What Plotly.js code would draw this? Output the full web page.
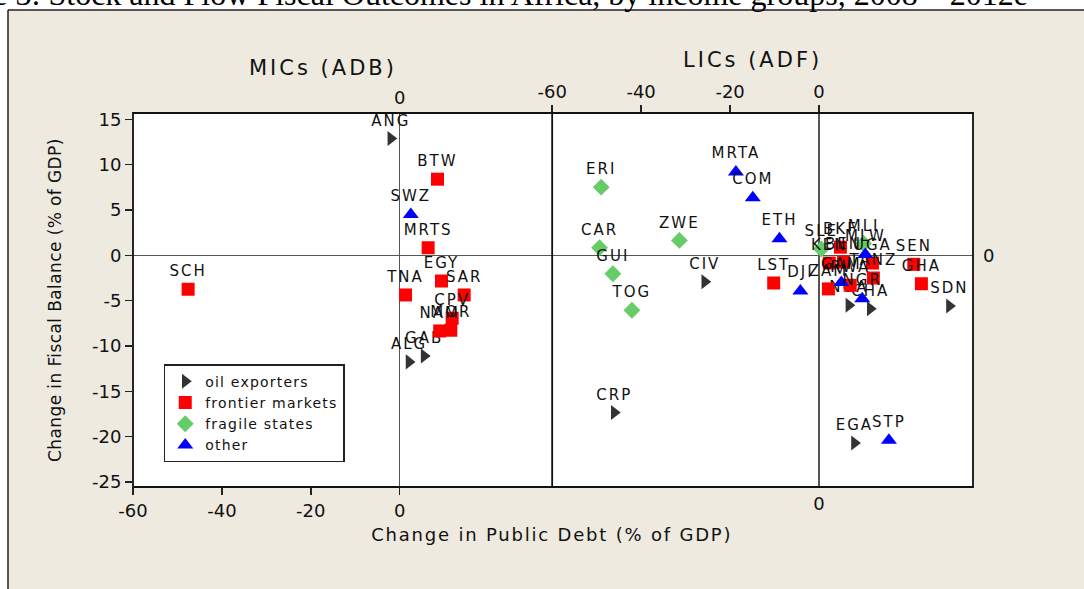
<!DOCTYPE html>
<html>
<head>
<meta charset="utf-8">
<script src="https://cdn.plot.ly/plotly-3.0.1.min.js"></script>
<style>
html,body{margin:0;padding:0;background:#fff;}
#chart{width:1084px;height:589px;}
.legendtext{letter-spacing:1.2px;}
#chart .textpoint text{letter-spacing:2px;}
</style>
</head>
<body>
<div id="chart"></div>
<script>
// ---------- MICs (ADB) ----------
const micOilLabels = ["ANG", "GAB", "ALG"];
const micOilX = [-2.0, 5.5, 2.1];
const micOilY = [12.9, -11.1, -11.75];

const micFrontLabels = ["BTW", "MRTS", "SCH", "TNA", "EGY", "SAR", "CPV", "NAM", "MOR"];
const micFrontX = [8.5, 6.4, -47.6, 1.3, 9.4, 14.5, 11.8, 9.0, 11.5];
const micFrontY = [8.4, 0.84, -3.74, -4.37, -2.83, -4.37, -6.94, -8.34, -8.26];

const micOtherLabels = ["SWZ"];
const micOtherX = [2.5];
const micOtherY = [4.5];

// ---------- LICs (ADF) ----------
const licOilLabels = ["CIV", "CRP", "SDN", "EGA", "NGA", "CHA"];
const licOilX = [-25.7, -46.05, 29.3, 7.95, 6.7, 11.5];
const licOilY = [-2.9, -17.33, -5.58, -20.7, -5.5, -5.9];

const licFrontLabels = ["LST", "SEN", "GHA", "BKF", "KEN", "BEN", "UGA", "TANZ", "ZAM", "RWA"];
const licFrontX = [-10.2, 21.3, 23.0, 4.8, 2.3, 5.5, 12.0, 12.2, 2.1, 7.0];
const licFrontY = [-3.05, -0.99, -3.13, 0.9, -0.85, -0.75, -0.85, -2.5, -3.7, -3.3];

const licFragileLabels = ["ERI", "CAR", "GUI", "TOG", "ZWE", "SLE", "MLI"];
const licFragileX = [-48.98, -49.35, -46.35, -42.07, -31.4, 0.5, 10.0];
const licFragileY = [7.52, 0.84, -2.03, -6.06, 1.65, 0.7, 1.3];

const licOtherLabels = ["MRTA", "COM", "ETH", "DJI", "STP", "MLW", "GAM", "NGR"];
const licOtherX = [-18.7, -14.9, -8.9, -4.2, 15.7, 10.4, 5.0, 9.7];
const licOtherY = [9.2, 6.34, 1.83, -3.93, -20.4, 0.1, -3.0, -4.8];

const groupNames = ["oil exporters", "frontier markets", "fragile states", "other"];

// tick values and their labels (hyphen minus as in the original)
const yTicks = [-25, -20, -15, -10, -5, 0, 5, 10, 15];
const yTickText = ["-25", "-20", "-15", "-10", "-5", "0", "5", "10", "15"];
const xTicks = [-60, -40, -20, 0];
const xTickText = ["-60", "-40", "-20", "0"];
const zeroTick = [0];
const zeroTickText = ["0"];

const FONT = "DejaVu Sans, Verdana, sans-serif";
const styles = {
  oil: {symbol: "triangle-right", color: "#333333", size: 13},
  front: {symbol: "square", color: "#FF0000", size: 13},
  frag: {symbol: "diamond", color: "#66CC66", size: 13},
  other: {symbol: "triangle-up", color: "#0000FF", size: 14}
};

function tr(x, y, labels, st, name, xa, showLeg) {
  return {
    type: "scatter", mode: "markers+text",
    x: x, y: y, text: labels,
    textposition: "top center",
    textfont: {family: FONT, size: 15, color: "#111"},
    marker: {symbol: st.symbol, color: st.color, size: st.size, line: {width: 0}},
    name: name, legendgroup: name, showlegend: showLeg,
    xaxis: xa, yaxis: "y", cliponaxis: false, hoverinfo: "text"
  };
}
function anchorTrace(xa, ya) {
  return {type: "scatter", mode: "markers", x: [], y: [], xaxis: xa, yaxis: ya,
          showlegend: false, hoverinfo: "skip"};
}

const data = [
  tr(micOilX, micOilY, micOilLabels, styles.oil, groupNames[0], "x", true),
  tr(micFrontX, micFrontY, micFrontLabels, styles.front, groupNames[1], "x", true),
  tr(licFragileX, licFragileY, licFragileLabels, styles.frag, groupNames[2], "x2", true),
  tr(micOtherX, micOtherY, micOtherLabels, styles.other, groupNames[3], "x", true),
  tr(licOilX, licOilY, licOilLabels, styles.oil, groupNames[0], "x2", false),
  tr(licFrontX, licFrontY, licFrontLabels, styles.front, groupNames[1], "x2", false),
  tr(licOtherX, licOtherY, licOtherLabels, styles.other, groupNames[3], "x2", false),
  anchorTrace("x3", "y"),
  anchorTrace("x4", "y"),
  anchorTrace("x2", "y2")
];

const SPLIT = 0.499;
const tickFont = {family: FONT, size: 18, color: "#111"};
const xLeftRange = [-60, 34.3];
const xRightRange = [-60, 34.6];
const yRange = [-25.55, 15.7];

const layout = {
  width: 1084, height: 589,
  margin: {l: 133, r: 111, t: 113, b: 102, pad: 0},
  paper_bgcolor: "#EEEAE0",
  plot_bgcolor: "#FFFFFF",
  showlegend: true,
  legend: {
    x: 0.0366, y: 0.3284, xanchor: "left", yanchor: "top",
    bgcolor: "#FFFFFF", bordercolor: "#222", borderwidth: 1.5,
    font: {family: FONT, size: 14, color: "#111"},
    traceorder: "normal"
  },
  xaxis: {
    domain: [0, SPLIT], range: xLeftRange, anchor: "y",
    tickmode: "array", tickvals: xTicks, ticktext: xTickText,
    ticks: "outside", ticklen: 7, tickwidth: 1.5, tickcolor: "#222",
    tickfont: tickFont, showgrid: false, showline: false,
    zeroline: true, zerolinecolor: "#555", zerolinewidth: 1.5
  },
  xaxis2: {
    domain: [SPLIT, 1], range: xRightRange, anchor: "y",
    tickmode: "array", tickvals: zeroTick, ticktext: zeroTickText, ticks: "",
    ticklabelstandoff: 4,
    tickfont: tickFont, showgrid: false, showline: false,
    zeroline: true, zerolinecolor: "#555", zerolinewidth: 1.5
  },
  xaxis3: {
    overlaying: "x", side: "top", anchor: "y", range: xLeftRange,
    tickmode: "array", tickvals: zeroTick, ticktext: zeroTickText, ticks: "",
    ticklabelstandoff: 4,
    tickfont: tickFont, showgrid: false, showline: false, zeroline: false
  },
  xaxis4: {
    overlaying: "x2", side: "top", anchor: "y", range: xRightRange,
    tickmode: "array", tickvals: xTicks, ticktext: xTickText,
    ticks: "outside", ticklen: 7, tickwidth: 1.5, tickcolor: "#222",
    tickfont: tickFont, showgrid: false, showline: false, zeroline: false
  },
  yaxis: {
    range: yRange, anchor: "x",
    tickmode: "array", tickvals: yTicks, ticktext: yTickText,
    ticks: "outside", ticklen: 7, tickwidth: 1.5, tickcolor: "#222",
    tickfont: tickFont, showgrid: false, showline: false,
    zeroline: true, zerolinecolor: "#555", zerolinewidth: 1.5
  },
  yaxis2: {
    overlaying: "y", side: "right", anchor: "x2", range: yRange,
    tickmode: "array", tickvals: zeroTick, ticktext: zeroTickText, ticks: "",
    ticklabelstandoff: 9,
    tickfont: tickFont, showgrid: false, showline: false, zeroline: false
  },
  shapes: [
    {type: "rect", xref: "paper", yref: "paper", x0: -1, x1: -0.1488, y0: -1, y1: 3,
     fillcolor: "#FFFFFF", line: {width: 0}, layer: "below"},
    {type: "rect", xref: "paper", yref: "paper", x0: -1, x1: 3, y0: 1.2754, y1: 3,
     fillcolor: "#FFFFFF", line: {width: 0}, layer: "below"},
    {type: "line", xref: "paper", yref: "paper", x0: -0.1488, x1: -0.1488, y0: -1, y1: 1.2754,
     line: {color: "#222", width: 1.5}},
    {type: "line", xref: "paper", yref: "paper", x0: -0.1488, x1: 3, y0: 1.2754, y1: 1.2754,
     line: {color: "#222", width: 1.5}},
    {type: "rect", xref: "paper", yref: "paper", x0: 0, x1: 1, y0: 0, y1: 1,
     line: {color: "#111", width: 1.8}},
    {type: "line", xref: "paper", yref: "paper", x0: SPLIT, x1: SPLIT, y0: 0, y1: 1,
     line: {color: "#111", width: 1.8}}
  ],
  annotations: [
    {text: "Figure 3: Stock and Flow Fiscal Outcomes in Africa, by income groups, 2008 – 2012e",
     xref: "paper", yref: "paper", x: 1.0679, y: 1.3195, xanchor: "right", yanchor: "middle",
     showarrow: false, font: {family: "Liberation Serif, Times New Roman, serif", size: 32, color: "#000"}},
    {text: "MICs (ADB)", xref: "paper", yref: "paper", x: 0.2262, y: 1.1203,
     xanchor: "center", yanchor: "middle", showarrow: false,
     font: {family: FONT, size: 21, color: "#111"}},
    {text: "LICs (ADF)", xref: "paper", yref: "paper", x: 0.737, y: 1.1417,
     xanchor: "center", yanchor: "middle", showarrow: false,
     font: {family: FONT, size: 21, color: "#111"}},
    {text: "Change in Public Debt (% of GDP)", xref: "paper", yref: "paper", x: 0.499, y: -0.1257,
     xanchor: "center", yanchor: "middle", showarrow: false,
     font: {family: FONT, size: 18, color: "#111"}},
    {text: "Change in Fiscal Balance (% of GDP)", xref: "paper", yref: "paper", x: -0.0929, y: 0.5,
     xanchor: "center", yanchor: "middle", textangle: -90, showarrow: false,
     font: {family: FONT, size: 17, color: "#111"}}
  ]
};

Plotly.newPlot("chart", data, layout, {displayModeBar: false, staticPlot: true}).then(function () {
  const spacing = ["0px", "3px", "3px", "1.8px", "0.4px"];
  document.querySelectorAll("#chart .annotation-text").forEach(function (el, i) {
    if (spacing[i] !== undefined) el.style.letterSpacing = spacing[i];
  });
});
</script>
</body>
</html>
